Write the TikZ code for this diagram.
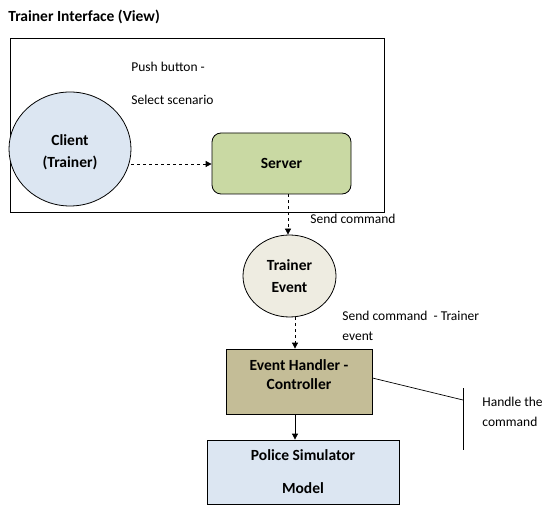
\documentclass[tikz,border=0pt]{standalone}
\usepackage{fontspec}
\setmainfont{Carlito}
\usetikzlibrary{shapes.geometric,arrows.meta}
\definecolor{clientblue}{HTML}{DCE6F2}
\definecolor{servergreen}{HTML}{C9D9A3}
\definecolor{eventgray}{HTML}{EEECE1}
\definecolor{handlertan}{HTML}{C4BD97}
\definecolor{modelblue}{HTML}{DCE6F2}
\tikzset{
  lbl/.style={font=\fontsize{13.5}{20}\selectfont, inner sep=0pt, anchor=west, align=left},
  bold/.style={font=\fontsize{15.5}{22}\selectfont\bfseries, align=center, inner sep=0pt},
  dasharrow/.style={dashed, -{Triangle[length=6pt,width=6pt]}},
  solidarrow/.style={-{Triangle[length=6pt,width=6pt]}},
}
\begin{document}
\begin{tikzpicture}[x=1pt,y=-1pt, line width=0.8pt]
\useasboundingbox (0,0) rectangle (559,518);
\node[lbl, font=\fontsize{15.5}{20}\selectfont\bfseries] (title) at (8,17) {Trainer Interface (View)};
\node[draw, minimum width=374pt, minimum height=174pt, inner sep=0pt, line width=0.7pt] (frame) at (197,125) {};
\node[lbl] (push) at (131,67) {Push button -};
\node[lbl] (select) at (131,100) {Select scenario};
\node[draw, ellipse, fill=clientblue, minimum width=122pt, minimum height=114pt, inner sep=0pt] (client) at (70,149) {};
\node[bold] (clienttext) at (70,152) {Client\\(Trainer)};
\node[draw, rounded corners=9pt, fill=servergreen, minimum width=139pt, minimum height=61pt, inner sep=0pt, bold] (server) at (281.5,163.5) {Server};
\node[draw, ellipse, fill=eventgray, minimum width=93pt, minimum height=82pt, inner sep=0pt, bold] (event) at (289.5,276) {Trainer\\Event};
\node[draw, fill=handlertan, minimum width=146pt, minimum height=65pt, inner sep=0pt] (handler) at (299,381.5) {};
\node[bold, font=\fontsize{15.5}{19}\selectfont\bfseries] (handlertext) at (299,374.5) {Event Handler -\\Controller};
\node[draw, fill=modelblue, minimum width=192pt, minimum height=64pt, inner sep=0pt] (model) at (303,472) {};
\node[bold] (modeltop) at (303,455) {Police Simulator};
\node[bold] (modelbot) at (303,488) {Model};
\node[lbl] (send1) at (310,219) {Send command};
\node[lbl] (send2) at (342,326) {Send command \ - Trainer\\event};
\node[lbl] (handle) at (482,412) {Handle the\\command};
\coordinate (bar) at (463,400);
\coordinate (bartop) at (463,388);
\coordinate (barbot) at (463,450);
\draw[dasharrow] (client.east |- 0,164) -- (server.west |- 0,164);
\draw[dasharrow] (server.south -| 288,0) -- (event.north -| 288,0);
\draw[dasharrow] (295,317) -- (handler.north -| 295,0);
\draw[solidarrow] (handler.south -| 295,0) -- (model.north -| 295,0);
\draw[line width=0.7pt] (handler.east |- 0,378) -- (bar);
\draw[line width=0.7pt] (bartop) -- (barbot);
\end{tikzpicture}
\end{document}
